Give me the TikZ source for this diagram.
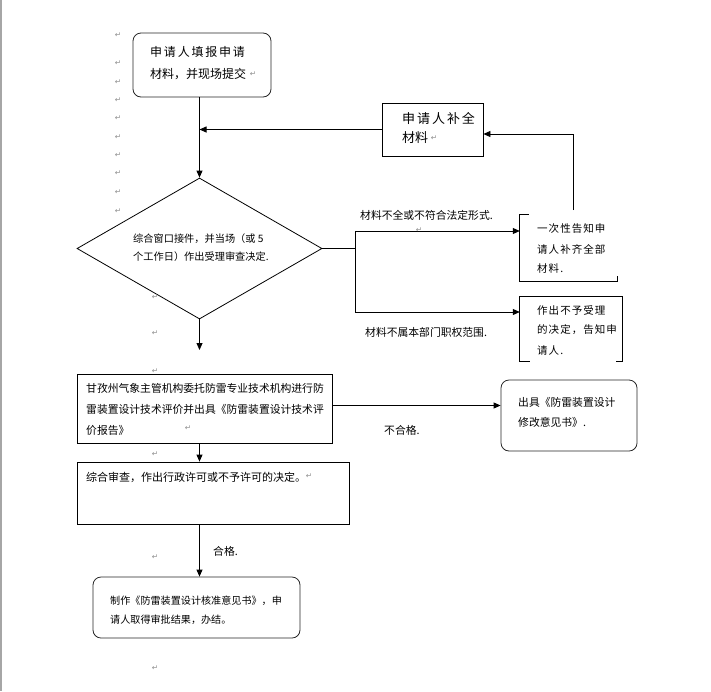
\documentclass[tikz,border=0pt]{standalone}
\usepackage{fontspec}
\setmainfont{Noto Sans CJK SC}
\newfontfamily\symfont{DejaVu Sans}
\newfontfamily\widefont[LetterSpace=15]{Noto Sans CJK SC}
\newfontfamily\semiwide[LetterSpace=10]{Noto Sans CJK SC}
\usetikzlibrary{shapes.geometric,arrows.meta}
\begin{document}
\begin{tikzpicture}[x=1pt,y=-1pt,
  ln/.style={line width=0.8pt},
  box/.style={draw,ln,inner sep=0pt},
  rbox/.style={box,rounded corners=8pt,draw=black!85},
  ghost/.style={inner sep=0pt},
  arr/.style={ln,-{Triangle[length=7pt,width=6pt]}},
  txt/.style={anchor=west,inner sep=0pt},
  fa/.style={font=\fontsize{10.8}{12}\selectfont},
  fb/.style={font=\fontsize{10.2}{12}\selectfont},
  pmark/.style={inner sep=0pt,text=black!45,font=\symfont\fontsize{7.5}{8}\selectfont}]
\useasboundingbox (0,0) rectangle (711,691);
\fill[black!35] (0,0) rectangle (2,691);

% boxes
\node[rbox,minimum width=138pt,minimum height=64pt] (apply) at (202,65) {};
\node[box,minimum width=101pt,minimum height=53pt] (buquan) at (432.5,129.5) {};
\node[diamond,draw,ln,inner sep=0pt,minimum width=245pt,minimum height=141pt] (check) at (199.5,248.5) {};
\node[ghost,minimum width=97pt,minimum height=66pt] (yici) at (568.5,248) {};
\node[ghost,minimum width=102pt,minimum height=64pt] (buyu) at (571,329) {};
\node[box,minimum width=255pt,minimum height=69pt] (eval) at (204.5,408.5) {};
\node[rbox,minimum width=136pt,minimum height=71pt] (chuju) at (569,415.5) {};
\node[box,minimum width=272pt,minimum height=62pt] (review) at (213,493) {};
\node[rbox,minimum width=207pt,minimum height=61pt] (finish) at (196.5,607.5) {};

% broken-edged boxes
\draw[ln] ([xshift=9pt]yici.north west) -- (yici.north west) -- (yici.south west)
  -- (yici.south east) -- ([yshift=5pt]yici.south east);
\draw[ln] ([xshift=10pt]buyu.south west) -- (buyu.south west) -- (buyu.north west)
  -- (buyu.north east) -- (buyu.south east) -- ([xshift=-6pt]buyu.south east);

% connectors
\coordinate (split) at (355,248.5);
\coordinate (jA) at (355,231);
\coordinate (jB) at (355,312);
\coordinate (back) at (573,210);
\coordinate (stop) at (199.5,350);
\draw[arr] (check.north |- apply.south) -- (check.north);
\draw[arr] (buquan.west) -- (buquan.west -| check.north);
\draw[ln] (check.east) -- (split);
\draw[ln] (jA) -- (jB);
\draw[arr] (jA) -- (jA -| yici.west);
\draw[arr] (jB) -- (jB -| buyu.west);
\draw[arr] (back) |- ([yshift=-4.5pt]buquan.east);
\draw[arr] (check.south) -- (stop);
\draw[arr] ([yshift=3pt]eval.east) -- ([yshift=3pt]eval.east -| chuju.west);
\draw[arr] (eval.south -| check.south) -- (review.north -| check.south);
\draw[arr] (review.south -| check.south) -- (finish.north -| check.south);

% texts
\node[txt,font=\widefont\fontsize{12}{14}\selectfont] (t1a) at (150,52) {申请人填报申请};
\node[txt,font=\fontsize{12}{14}\selectfont] (t1b) at (150,74) {材料，并现场提交};
\node[txt,font=\widefont\fontsize{13}{14}\selectfont] (t2a) at (402,118) {申请人补全};
\node[txt,font=\fontsize{13}{14}\selectfont] (t2b) at (402,138) {材料};
\node[txt,fb] (t3a) at (133,239) {综合窗口接件，并当场（或 5};
\node[txt,fb] (t3b) at (133,257) {个工作日）作出受理审查决定.};
\node[txt,fa] (l1) at (360,215) {材料不全或不符合法定形式.};
\node[txt,fa] (l2) at (365,332) {材料不属本部门职权范围.};
\node[txt,font=\semiwide\fontsize{10.5}{12}\selectfont] (t4a) at (537,229) {一次性告知申};
\node[txt,font=\semiwide\fontsize{10.5}{12}\selectfont] (t4b) at (537,249) {请人补齐全部};
\node[txt,font=\semiwide\fontsize{10.5}{12}\selectfont] (t4c) at (537,268) {材料.};
\node[txt,font=\semiwide\fontsize{10.5}{12}\selectfont] (t5a) at (537,310) {作出不予受理};
\node[txt,font=\semiwide\fontsize{10.5}{12}\selectfont] (t5b) at (537,330) {的决定，告知申};
\node[txt,font=\semiwide\fontsize{10.5}{12}\selectfont] (t5c) at (537,350) {请人.};
\node[txt,fa] (t6a) at (86,388) {甘孜州气象主管机构委托防雷专业技术机构进行防};
\node[txt,fa] (t6b) at (86,409) {雷装置设计技术评价并出具《防雷装置设计技术评};
\node[txt,fa] (t6c) at (86,430) {价报告》};
\node[txt,fa] (t7a) at (518,402) {出具《防雷装置设计};
\node[txt,fa] (t7b) at (518,422) {修改意见书》.};
\node[txt,fa] (l3) at (384,430) {不合格.};
\node[txt,font=\fontsize{11}{12}\selectfont] (t8) at (86,477) {综合审查，作出行政许可或不予许可的决定。};
\node[txt,fa] (l4) at (213,551) {合格.};
\node[txt,font=\fontsize{10.1}{12}\selectfont] (t9a) at (110,601) {制作《防雷装置设计核准意见书》，申};
\node[txt,font=\fontsize{10.1}{12}\selectfont] (t9b) at (110,620) {请人取得审批结果，办结。};

% paragraph marks
\foreach \yy in {35,63,82,100,118,137,155,173,192,211}
  \node[pmark] at (118,\yy) {↵};
\foreach \yy in {297,333,371,454,557,668}
  \node[pmark] at (155,\yy) {↵};
\node[pmark] (m1) at (253,74) {↵};
\node[pmark] (m2) at (434,138) {↵};
\node[pmark] (m3) at (419,230) {↵};
\node[pmark] (m4) at (188,428) {↵};
\node[pmark] (m5) at (309,476) {↵};
\end{tikzpicture}
\end{document}
